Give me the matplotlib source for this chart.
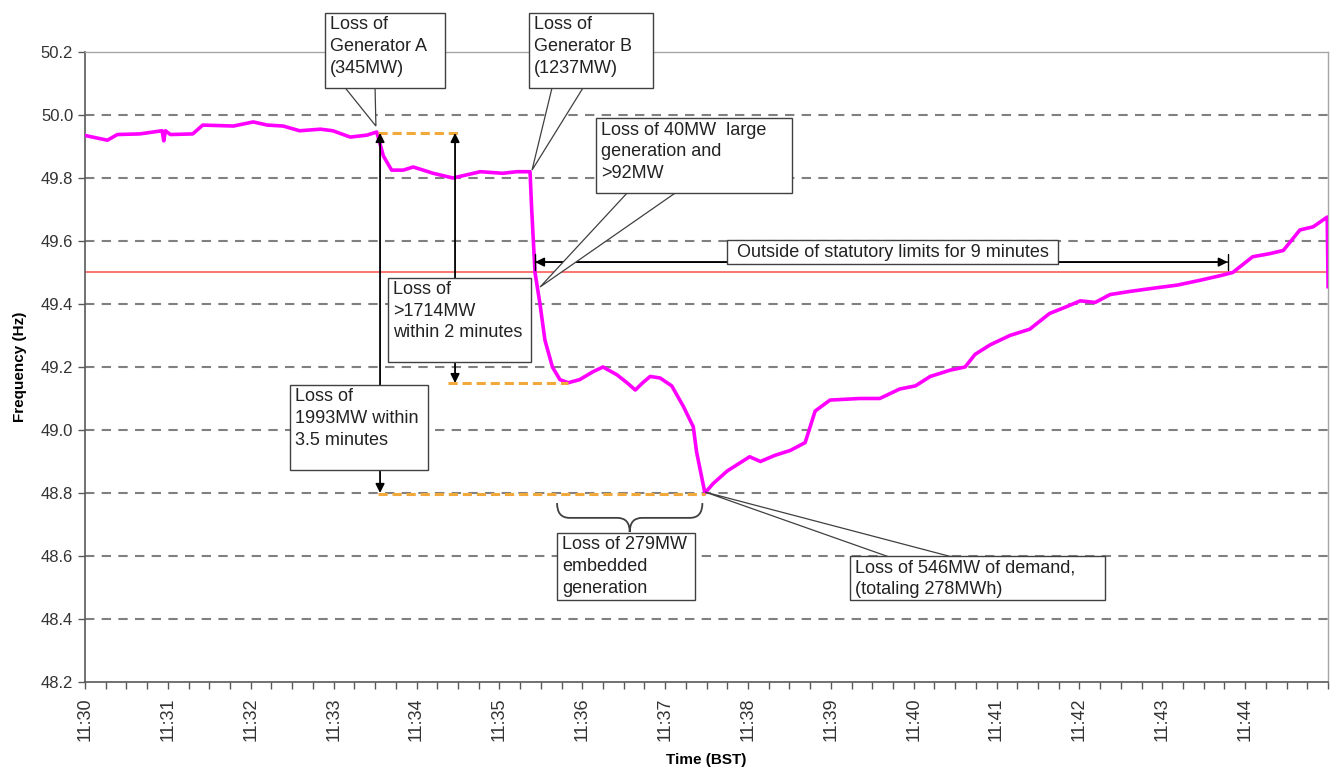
import numpy as np
import matplotlib
matplotlib.use("Agg")
import matplotlib.pyplot as plt
from matplotlib.patches import Rectangle, Polygon, PathPatch
from matplotlib.path import Path

plt.rcParams['font.family'] = ['Liberation Sans', 'DejaVu Sans']

# System frequency trace, minutes after 11:30 BST
minutes = [0.00, 0.27, 0.39, 0.66, 0.93, 0.95, 0.97, 1.03, 1.30, 1.42, 1.79,
           2.03, 2.20, 2.39, 2.59, 2.84, 2.99, 3.20, 3.40, 3.52, 3.60, 3.70,
           3.84, 3.96, 4.20, 4.44, 4.77, 5.04, 5.21, 5.37, 5.39, 5.43, 5.49,
           5.55, 5.64, 5.73, 5.83, 5.97, 6.13, 6.25, 6.42, 6.54, 6.64, 6.73,
           6.82, 6.94, 7.08, 7.22, 7.34, 7.38, 7.48, 7.58, 7.75, 8.02, 8.15,
           8.33, 8.51, 8.69, 8.81, 8.99, 9.35, 9.59, 9.83, 10.02, 10.20,
           10.44, 10.62, 10.74, 10.92, 11.16, 11.40, 11.64, 11.83, 12.01,
           12.19, 12.37, 12.61, 12.89, 13.18, 13.45, 13.70, 13.85, 14.09,
           14.30, 14.46, 14.66, 14.82, 14.99, 15.00]
freq_hz = [49.935, 49.920, 49.938, 49.940, 49.950, 49.918, 49.950, 49.938,
           49.940, 49.968, 49.965, 49.978, 49.968, 49.965, 49.950, 49.955,
           49.950, 49.930, 49.936, 49.946, 49.870, 49.825, 49.825, 49.835,
           49.815, 49.800, 49.820, 49.815, 49.820, 49.820, 49.700, 49.500,
           49.400, 49.285, 49.200, 49.160, 49.150, 49.160, 49.185, 49.200,
           49.175, 49.150, 49.127, 49.150, 49.170, 49.165, 49.140, 49.075,
           49.010, 48.930, 48.800, 48.830, 48.870, 48.915, 48.900, 48.920,
           48.935, 48.960, 49.060, 49.095, 49.100, 49.100, 49.130, 49.140,
           49.170, 49.190, 49.200, 49.240, 49.270, 49.300, 49.320, 49.370,
           49.390, 49.410, 49.405, 49.430, 49.440, 49.450, 49.460, 49.475,
           49.490, 49.500, 49.550, 49.560, 49.570, 49.635, 49.645, 49.676,
           49.455]

tick_minutes = list(range(15))
tick_labels = ['11:30', '11:31', '11:32', '11:33', '11:34', '11:35', '11:36',
               '11:37', '11:38', '11:39', '11:40', '11:41', '11:42', '11:43',
               '11:44']
y_ticks = [48.2, 48.4, 48.6, 48.8, 49.0, 49.2, 49.4, 49.6, 49.8, 50.0, 50.2]
statutory_limit = 49.5

EDGE = '#404040'
ORANGE = '#f2a93b'
TXT = 13


def callout_box(ax, x0, x1, y_top, y_bot, text, centered=False):
    ax.add_patch(Rectangle((x0, y_bot), x1 - x0, y_top - y_bot, fc='white',
                           ec=EDGE, lw=1.0, zorder=8, clip_on=False))
    if centered:
        ax.text((x0 + x1) / 2, (y_top + y_bot) / 2, text, ha='center',
                va='center', fontsize=TXT, color='#222222', zorder=9)
    else:
        ax.annotate(text, xy=(x0, y_top), xytext=(3.5, -2.5),
                    textcoords='offset points', ha='left', va='top',
                    fontsize=TXT, color='#222222', linespacing=1.35,
                    zorder=9, annotation_clip=False)


def wedge(ax, base_a, base_b, tip):
    ax.add_patch(Polygon([base_a, tip, base_b], closed=True, fc='white',
                         ec=EDGE, lw=0.9, zorder=7, clip_on=False))


def double_arrow(ax, x0, y0, x1, y1, bars=False):
    ax.annotate('', xy=(x1, y1), xytext=(x0, y0),
                arrowprops=dict(arrowstyle='<|-|>', color='black', lw=1.3,
                                mutation_scale=13, shrinkA=0, shrinkB=0),
                zorder=6)
    if bars:
        ax.annotate('', xy=(x1, y1), xytext=(x0, y0),
                    arrowprops=dict(arrowstyle='|-|,widthA=0.3,widthB=0.3',
                                    color='black', lw=1.0, mutation_scale=20,
                                    shrinkA=0, shrinkB=0),
                    zorder=6)


def brace(ax, x0, x1, y_top, y_mid, y_tip, r=0.15):
    xc = (x0 + x1) / 2
    verts = [(x0, y_top), (x0, y_mid), (x0 + r, y_mid), (xc - r, y_mid),
             (xc, y_mid), (xc, y_tip), (xc, y_mid), (xc + r, y_mid),
             (x1 - r, y_mid), (x1, y_mid), (x1, y_top)]
    codes = [Path.MOVETO, Path.CURVE3, Path.CURVE3, Path.LINETO,
             Path.CURVE3, Path.CURVE3, Path.CURVE3, Path.CURVE3,
             Path.LINETO, Path.CURVE3, Path.CURVE3]
    ax.add_patch(PathPatch(Path(verts, codes), fc='none', ec=EDGE, lw=1.3,
                           zorder=6, clip_on=False))


fig = plt.figure(figsize=(13.35, 7.74), dpi=100)
ax = fig.add_axes([0.0637, 0.1189, 0.9311, 0.8139])

ax.set_xlim(0, 15)
ax.set_ylim(48.2, 50.2)

# dashed horizontal grid
for y in y_ticks[1:-1]:
    ax.axhline(y, color='#808080', lw=1.5, ls=(0, (4.5, 3.5)), zorder=1)

ax.axhline(statutory_limit, color='#ff4d4d', lw=1.1, zorder=2)

ax.plot(minutes, freq_hz, color='#ff00ff', lw=2.6, zorder=3,
        solid_joinstyle='round')

# reference levels used by the vertical arrows
ax.plot([3.54, 4.53], [49.943, 49.943], color=ORANGE, lw=2.2,
        ls=(0, (3, 1.6)), zorder=4)
ax.plot([4.38, 5.83], [49.149, 49.149], color=ORANGE, lw=2.2,
        ls=(0, (3, 1.6)), zorder=4)
ax.plot([3.54, 7.48], [48.797, 48.797], color=ORANGE, lw=2.2,
        ls=(0, (3, 1.6)), zorder=4)

double_arrow(ax, 3.56, 49.943, 3.56, 48.80)
double_arrow(ax, 4.465, 49.943, 4.465, 49.149)
double_arrow(ax, 5.43, 49.533, 13.79, 49.533, bars=True)

# callouts
wedge(ax, (3.14, 50.086), (3.50, 50.086), (3.51, 49.965))
callout_box(ax, 2.896, 4.344, 50.324, 50.086,
            'Loss of\nGenerator A\n(345MW)')

wedge(ax, (5.635, 50.086), (6.009, 50.086), (5.394, 49.825))
callout_box(ax, 5.358, 6.854, 50.324, 50.086,
            'Loss of\nGenerator B\n(1237MW)')

wedge(ax, (6.54, 49.752), (7.12, 49.752), (5.491, 49.454))
callout_box(ax, 6.166, 8.531, 49.990, 49.752,
            'Loss of 40MW  large\ngeneration and\n>92MW')

callout_box(ax, 7.747, 11.741, 49.603, 49.527,
            'Outside of statutory limits for 9 minutes', centered=True)

callout_box(ax, 3.656, 5.382, 49.483, 49.216,
            'Loss of\n>1714MW\nwithin 2 minutes')

callout_box(ax, 2.474, 4.139, 49.143, 48.873,
            'Loss of\n1993MW within\n3.5 minutes')

brace(ax, 5.696, 7.45, 48.768, 48.721, 48.676)
callout_box(ax, 5.696, 7.361, 48.673, 48.460,
            'Loss of 279MW\nembedded\ngeneration')

wedge(ax, (9.702, 48.597), (10.462, 48.597), (7.482, 48.803))
callout_box(ax, 9.231, 12.308, 48.600, 48.460,
            'Loss of 546MW of demand,\n(totaling 278MWh)')

# axes styling
ax.set_yticks(y_ticks)
ax.set_yticklabels([f'{v:.1f}' for v in y_ticks])
ax.set_xticks(tick_minutes)
ax.set_xticklabels(tick_labels, rotation=90)
ax.set_xticks(np.arange(0, 15.01, 0.25), minor=True)
ax.tick_params(axis='both', which='both', direction='out', length=5,
               width=1, color='#595959', labelcolor='#333333', labelsize=12)
ax.tick_params(axis='x', pad=6, labelsize=13)

for side in ('left', 'bottom'):
    ax.spines[side].set_color('#595959')
    ax.spines[side].set_linewidth(1.2)
for side in ('top', 'right'):
    ax.spines[side].set_color('#a6a6a6')
    ax.spines[side].set_linewidth(1.0)

ax.set_ylabel('Frequency (Hz)', fontsize=11, fontweight='bold', labelpad=10)
ax.set_xlabel('Time (BST)', fontsize=11, fontweight='bold', labelpad=9)

fig.savefig('out.png', dpi=100)
